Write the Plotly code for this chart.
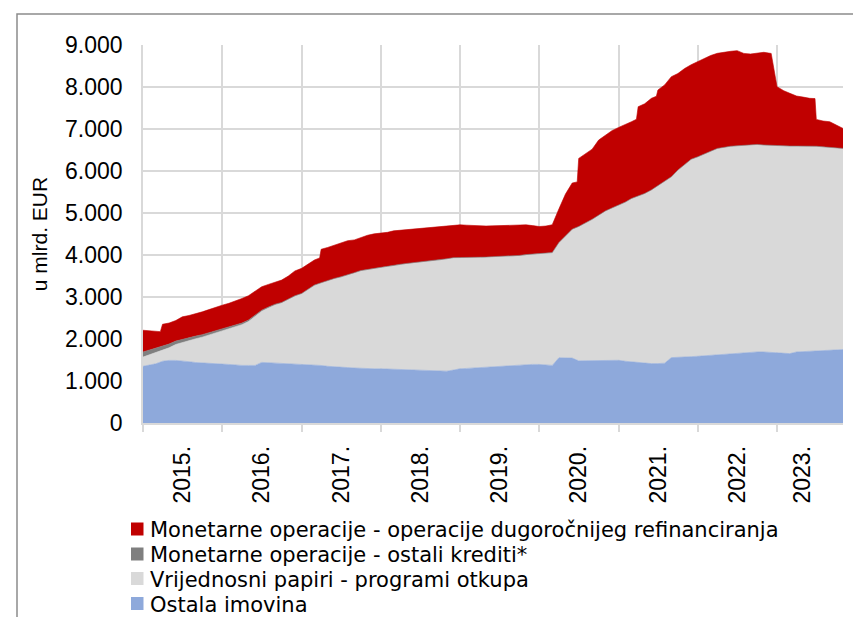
import pandas as pd
import plotly.graph_objects as go

# monthly, 2015-01 .. 2023-11 (cumulative tops of the stacked bands, mlrd. EUR)
dates = pd.date_range("2015-01-01", "2023-11-01", freq="MS")

ostala_top = [
    1350, 1380, 1410, 1470, 1490, 1490, 1480, 1460, 1440, 1435, 1420, 1410,
    1403, 1395, 1380, 1371, 1371, 1371, 1443, 1435, 1430, 1420, 1415, 1411,
    1411, 1400, 1390, 1370, 1350, 1345, 1330, 1320, 1310, 1300, 1295, 1291,
    1291, 1285, 1280, 1275, 1270, 1267, 1260, 1250, 1240, 1235, 1235, 1260,
    1291, 1300, 1310, 1320, 1330, 1347, 1355, 1360, 1371, 1380, 1390, 1395,
    1395, 1380, 1371, 1554, 1555, 1546, 1480, 1480, 1485, 1490, 1490, 1480,
    1493, 1470, 1454, 1440, 1430, 1414, 1414, 1425, 1557, 1560, 1575, 1580,
    1589, 1600, 1620, 1636, 1645, 1655, 1668, 1668, 1680, 1692, 1692, 1680,
    1668, 1660, 1652, 1692, 1700, 1705, 1710, 1716, 1730, 1748, 1748,
]

papiri_top = [
    1570, 1625, 1680, 1730, 1790, 1870, 1920, 1960, 2005, 2044, 2095, 2150,
    2203, 2248, 2300, 2342, 2415, 2530, 2661, 2740, 2812, 2855, 2948, 3020,
    3076, 3172, 3276, 3332, 3392, 3435, 3472, 3515, 3572, 3622, 3652, 3674,
    3700, 3724, 3740, 3774, 3794, 3812, 3829, 3844, 3851, 3874, 3904, 3931,
    3932, 3935, 3940, 3940, 3945, 3956, 3960, 3965, 3972, 3985, 4005, 4020,
    4030, 4040, 4052, 4290, 4442, 4609, 4675, 4753, 4845, 4944, 5045, 5115,
    5183, 5255, 5341, 5395, 5460, 5545, 5645, 5755, 5858, 6016, 6145, 6275,
    6334, 6395, 6465, 6533, 6565, 6585, 6595, 6605, 6615, 6628, 6615, 6605,
    6595, 6589, 6589, 6589, 6589, 6589, 6585, 6570, 6557, 6540, 6533,
]

krediti_top = [
    1690, 1740, 1790, 1830, 1880, 1950, 1995, 2030, 2070, 2104, 2150, 2200,
    2248, 2290, 2340, 2380, 2450, 2560, 2686, 2760, 2830, 2870, 2960, 3030,
    3084, 3180, 3284, 3340, 3400, 3443, 3480, 3523, 3580, 3630, 3660, 3682,
    3706, 3730, 3746, 3780, 3800, 3818, 3835, 3850, 3857, 3880, 3910, 3937,
    3937, 3940, 3945, 3945, 3950, 3961, 3965, 3970, 3977, 3990, 4010, 4025,
    4035, 4045, 4057, 4300, 4450, 4615, 4680, 4758, 4850, 4949, 5050, 5120,
    5188, 5260, 5346, 5400, 5465, 5550, 5650, 5760, 5863, 6021, 6150, 6280,
    6339, 6400, 6470, 6538, 6570, 6590, 6600, 6610, 6620, 6633, 6620, 6610,
    6600, 6594, 6594, 6594, 6594, 6594, 6590, 6575, 6562, 6545, 6538,
]

ukupno_top = [
    2208, 2190, 2175, 2351, 2380, 2440, 2527, 2560, 2600, 2646, 2700, 2760,
    2805, 2850, 2900, 2965, 3030, 3140, 3244, 3300, 3350, 3403, 3500, 3620,
    3682, 3780, 3881, 4136, 4180, 4240, 4290, 4340, 4360, 4420, 4470, 4503,
    4519, 4540, 4575, 4590, 4600, 4623, 4640, 4650, 4662, 4680, 4700, 4710,
    4718, 4710, 4700, 4694, 4690, 4694, 4700, 4705, 4710, 4715, 4718, 4700,
    4678, 4690, 4720, 5100, 5450, 5714, 6300, 6420, 6520, 6737, 6850, 6960,
    7038, 7100, 7173, 7531, 7600, 7730, 7928, 8050, 8246, 8320, 8440, 8530,
    8603, 8680, 8750, 8802, 8830, 8850, 8866, 8800, 8786, 8810, 8826, 8802,
    8007, 7912, 7850, 7785, 7760, 7730, 7229, 7190, 7173, 7094, 7014,
]

# total just before the big allotment / repayment dates (sharp steps in the top edge)
skok_dates = ["2015-03-22", "2017-03-25", "2020-06-24", "2021-03-24",
              "2021-06-24", "2022-12-05", "2023-03-25", "2023-06-25"]
skok_vals = [2175, 3930, 5740, 7230, 7780, 8800, 7800, 7725]

year_labels = ["2015.", "2016.", "2017.", "2018.", "2019.", "2020.", "2021.", "2022.", "2023."]
year_label_pos = ["2015-07-02", "2016-07-02", "2017-07-02", "2018-07-02", "2019-07-02",
                  "2020-07-02", "2021-07-02", "2022-07-02", "2023-04-28"]

series_names = [
    "Monetarne operacije - operacije dugoročnijeg refinanciranja",
    "Monetarne operacije - ostali krediti*",
    "Vrijednosni papiri - programi otkupa",
    "Ostala imovina",
]
series_colors = ["#C00000", "#7F7F7F", "#D9D9D9", "#8EA9DB"]

# page body adds an 8px offset, margins are set so the plot area lands at 143..843 x 45..423
W, H = 861, 617
OFF = 8
PX0, PX1, PY0, PY1 = 143, 843, 45, 423
L, T = PX0 - OFF, PY0 - OFF
R, B = W + OFF - PX1, H + OFF - PY1


def px_x(x):
    return (x - PX0) / (PX1 - PX0)


def px_y(y):
    return (PY1 - y) / (PY1 - PY0)


ukupno = pd.concat([
    pd.Series(ukupno_top, index=dates),
    pd.Series(skok_vals, index=pd.to_datetime(skok_dates)),
]).sort_index()

fig = go.Figure()
bands = [
    (dates, ostala_top, "tozeroy", series_colors[3], series_names[3]),
    (dates, papiri_top, "tonexty", series_colors[2], series_names[2]),
    (dates, krediti_top, "tonexty", series_colors[1], series_names[1]),
    (ukupno.index, ukupno.values, "tonexty", series_colors[0], series_names[0]),
]
for xs, vals, fill, col, name in bands:
    fig.add_trace(go.Scatter(
        x=xs, y=vals, name=name, mode="lines", fill=fill,
        fillcolor=col, line=dict(width=0.6, color=col), showlegend=False,
        hovertemplate="%{x|%d.%m.%Y}<br>%{y:,.0f}<extra></extra>",
    ))

# legend drawn by hand so row spacing matches the original
row_y = [529, 554, 578.5, 603.5]
shapes = []
annotations = []
for name, col, yc in zip(series_names, series_colors, row_y):
    shapes.append(dict(type="rect", xref="paper", yref="paper",
                       x0=px_x(131), x1=px_x(143.5), y0=px_y(yc - 6.5), y1=px_y(yc + 6.5),
                       fillcolor=col, line=dict(width=0)))
    annotations.append(dict(text=name, xref="paper", yref="paper", x=px_x(148), y=px_y(yc + 1),
                            xanchor="left", yanchor="middle", showarrow=False,
                            font=dict(family="DejaVu Sans", size=21, color="black")))

# outer chart frame
shapes.append(dict(type="rect", xref="paper", yref="paper",
                   x0=px_x(17), x1=px_x(875), y0=px_y(640), y1=px_y(14),
                   line=dict(color="#8C8C8C", width=1.5), fillcolor="rgba(0,0,0,0)"))

fig.update_layout(
    width=W, height=H,
    margin=dict(l=L, r=R, t=T, b=B),
    paper_bgcolor="white", plot_bgcolor="white",
    separators=",.",
    font=dict(family="Arial, Liberation Sans, sans-serif", color="black", size=21),
    showlegend=False,
    shapes=shapes,
    annotations=annotations,
)
fig.update_xaxes(
    type="date", range=["2015-01-01", "2023-11-01"],
    tickmode="array", tickvals=year_label_pos, ticktext=year_labels,
    tickangle=-90, ticks="", showgrid=False, ticklabelstandoff=12,
    tickfont=dict(size=23),
    showline=True, linecolor="#D9D9D9", linewidth=1.5,
    minor=dict(tick0="2015-01-01", dtick="M12", showgrid=True, gridcolor="#D9D9D9",
               gridwidth=1.5, ticks="outside", ticklen=7, tickcolor="#D9D9D9", tickwidth=1.5),
    automargin=False, fixedrange=True,
)
fig.update_yaxes(
    range=[0, 9000], dtick=1000, tickformat=",d",
    showgrid=True, gridcolor="#D9D9D9", gridwidth=1.5,
    showline=True, linecolor="#D9D9D9", linewidth=1.5,
    ticks="", ticklabelstandoff=14, tickfont=dict(size=23),
    title=dict(text="u mlrd. EUR", font=dict(size=21), standoff=12),
    automargin=False, fixedrange=True, zeroline=False,
)

fig.write_html("out.html")
